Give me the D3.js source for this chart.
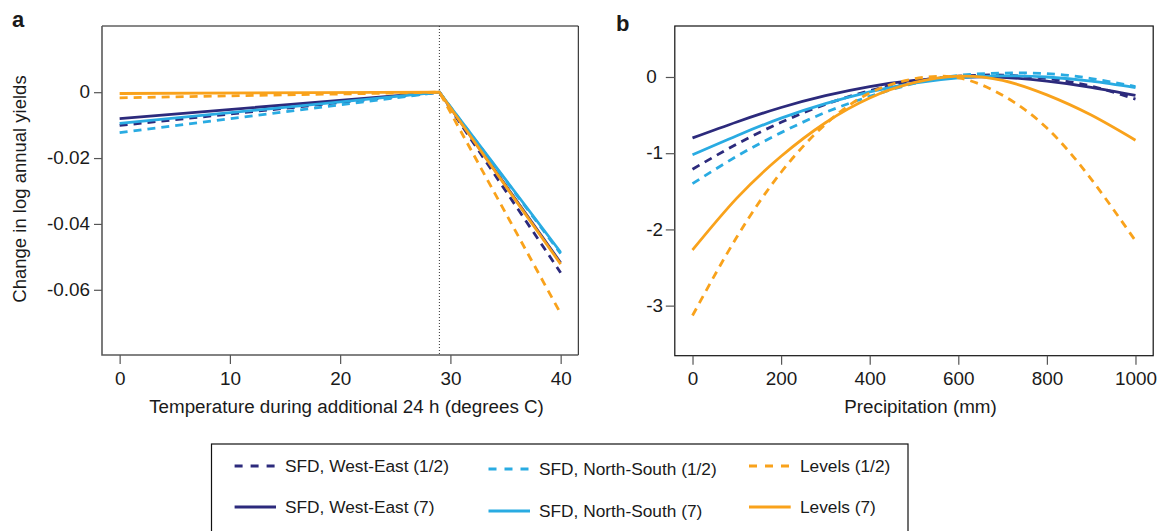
<!DOCTYPE html>
<html><head><meta charset="utf-8">
<script src="https://cdn.jsdelivr.net/npm/d3@7"></script>
<style>
html,body{margin:0;padding:0;background:#fff;}
svg{display:block;font-family:"Liberation Sans",Arial,Helvetica,sans-serif;}
</style></head><body>
<svg id="c" width="1165" height="531"></svg>
<script>
// ---------- DATA ----------
// Panel a: temperature during additional 24 h (degrees C)
const tempX = [0, 29, 40];
const tempWE_half = [-0.0101, 0, -0.0548];
const tempWE_7    = [-0.0080, 0, -0.0518];
const tempNS_half = [-0.0123, 0, -0.0490];
const tempNS_7    = [-0.0095, 0, -0.0486];
const tempLev_half = [-0.0017, 0, -0.0672];
const tempLev_7    = [-0.0004, 0, -0.0522];
const tempThreshold = 29;

// Panel b: precipitation (mm)
const precipX = [0, 100, 200, 300, 400, 500, 600, 700, 800, 900, 1000];
const precipWE_half = [-1.21, -0.88, -0.595, -0.36, -0.18, -0.055, 0.01, 0.025, -0.02, -0.12, -0.29];
const precipWE_7    = [-0.80, -0.59, -0.40, -0.245, -0.125, -0.045, -0.005, -0.005, -0.055, -0.135, -0.24];
const precipNS_half = [-1.40, -1.04, -0.73, -0.465, -0.255, -0.085, 0.02, 0.05, 0.045, -0.02, -0.125];
const precipNS_7    = [-1.02, -0.77, -0.54, -0.35, -0.195, -0.08, -0.01, 0.015, 0.0, -0.055, -0.14];
const precipLev_half = [-3.13, -2.10, -1.25, -0.62, -0.21, -0.025, -0.01, -0.24, -0.67, -1.34, -2.15];
const precipLev_7    = [-2.27, -1.59, -1.04, -0.60, -0.275, -0.075, 0.01, -0.045, -0.235, -0.50, -0.83];

// Ticks and labels
const tempXTicks = [0, 10, 20, 30, 40];
const tempYTicks = [0, -0.02, -0.04, -0.06];
const precipXTicks = [0, 200, 400, 600, 800, 1000];
const precipYTicks = [0, -1, -2, -3];
const seriesLabels = ["SFD, West-East (1/2)", "SFD, West-East (7)", "SFD, North-South (1/2)", "SFD, North-South (7)", "Levels (1/2)", "Levels (7)"];
const panelLabels = ["a", "b"];
const xTitles = ["Temperature during additional 24 h (degrees C)", "Precipitation (mm)"];
const yTitle = "Change in log annual yields";

// ---------- STYLE ----------
const NAVY = "#2c2a7c", LBLUE = "#29abe2", ORANGE = "#f9a21b";
const seriesStyle = [
  {color: NAVY, dashed: true}, {color: NAVY, dashed: false},
  {color: LBLUE, dashed: true}, {color: LBLUE, dashed: false},
  {color: ORANGE, dashed: true}, {color: ORANGE, dashed: false}
];
const tempSeries = [tempWE_half, tempWE_7, tempNS_half, tempNS_7, tempLev_half, tempLev_7];
const precipSeries = [precipWE_half, precipWE_7, precipNS_half, precipNS_7, precipLev_half, precipLev_7];

const svg = d3.select("#c");
const TICKFONT = 17.5, TICKSX = 1.08;

function stretch(sel, sx) {
  sel.each(function() {
    const t = d3.select(this);
    const x = +t.attr("x") || 0, y = +t.attr("y") || 0;
    t.attr("x", 0).attr("y", 0).attr("transform", `translate(${x},${y}) scale(${sx},1)`);
  });
}
const fmt = d => String(d);

// ---------- PANEL A ----------
const A = {l: 102, r: 578.3, t: 26, b: 355};
const xA = d3.scaleLinear().domain([-1.6, 41.6]).range([A.l, A.r]);
const yA = d3.scaleLinear().domain([-0.0798, 0.0201]).range([A.b, A.t]);

const gA = svg.append("g");
gA.append("path").attr("d", `M${A.l},${A.t}H${A.r}V${A.b}`).attr("fill", "none").attr("stroke", "#111").attr("stroke-width", 1);
gA.append("path").attr("d", `M${A.l},${A.t}V${A.b}H${A.r}`).attr("fill", "none").attr("stroke", "#5a5a5a").attr("stroke-width", 1.6);

const axAy = gA.append("g").attr("transform", `translate(${A.l},0)`)
  .call(d3.axisLeft(yA).tickValues(tempYTicks).tickSize(8).tickPadding(4).tickFormat(fmt));
const axAx = gA.append("g").attr("transform", `translate(0,${A.b})`)
  .call(d3.axisBottom(xA).tickValues(tempXTicks).tickSize(9).tickPadding(8.8).tickFormat(fmt));

gA.append("line").attr("x1", xA(tempThreshold)).attr("x2", xA(tempThreshold))
  .attr("y1", A.t).attr("y2", A.b).attr("stroke", "#333").attr("stroke-width", 1).attr("stroke-dasharray", "1,2");

const lineA = d3.line().x((d, i) => xA(tempX[i])).y(d => yA(d));
tempSeries.forEach((s, k) => {
  gA.append("path").datum(s).attr("d", lineA).attr("fill", "none")
    .attr("stroke", seriesStyle[k].color).attr("stroke-width", 2.8)
    .attr("stroke-dasharray", seriesStyle[k].dashed ? "8,6" : null);
});

// ---------- PANEL B ----------
const B = {l: 674.8, r: 1153.2, t: 26, b: 355.7};
const xB = d3.scaleLinear().domain([-40, 1040]).range([B.l, B.r]);
const yB = d3.scaleLinear().domain([-3.657, 0.669]).range([B.b, B.t]);
const gB = svg.append("g");
gB.append("rect").attr("x", B.l).attr("y", B.t).attr("width", B.r - B.l).attr("height", B.b - B.t)
  .attr("fill", "none").attr("stroke", "#111").attr("stroke-width", 1.2);
const axBy = gB.append("g").attr("transform", `translate(${B.l},0)`)
  .call(d3.axisLeft(yB).tickValues(precipYTicks).tickSize(9).tickPadding(4).tickFormat(fmt));
axBy.selectAll("text").attr("text-anchor", "start").attr("x", -28.5);
const axBx = gB.append("g").attr("transform", `translate(0,${B.b})`)
  .call(d3.axisBottom(xB).tickValues(precipXTicks).tickSize(9).tickPadding(8.3).tickFormat(fmt));

const lineB = d3.line().x((d, i) => xB(precipX[i])).y(d => yB(d)).curve(d3.curveNatural);
precipSeries.forEach((s, k) => {
  gB.append("path").datum(s).attr("d", lineB).attr("fill", "none")
    .attr("stroke", seriesStyle[k].color).attr("stroke-width", 2.8)
    .attr("stroke-dasharray", seriesStyle[k].dashed ? "8,6" : null);
});

[axAy, axAx, axBy, axBx].forEach(ax => {
  ax.select(".domain").remove();
  ax.selectAll(".tick line").attr("stroke", "#555").attr("stroke-width", 1.2);
  ax.selectAll("text").attr("font-size", TICKFONT).attr("fill", "#1a1a1a")
    .attr("font-family", '"Liberation Sans",Arial,sans-serif');
  stretch(ax.selectAll("text"), TICKSX);
});

// titles
svg.append("text").attr("x", 346.5).attr("y", 413).attr("text-anchor", "middle")
  .attr("font-size", 18.8).attr("fill", "#1a1a1a").text(xTitles[0]);
svg.append("text").attr("x", 920.5).attr("y", 413).attr("text-anchor", "middle")
  .attr("font-size", 18.8).attr("fill", "#1a1a1a").text(xTitles[1]);
svg.append("text").attr("transform", "translate(26,189) rotate(-90)").attr("text-anchor", "middle")
  .attr("font-size", 18.5).attr("fill", "#1a1a1a").text(yTitle);
svg.append("text").attr("x", 12).attr("y", 27).attr("font-size", 22).attr("font-weight", "bold")
  .attr("fill", "#1a1a1a").text(panelLabels[0]);
svg.append("text").attr("x", 616).attr("y", 31).attr("font-size", 22).attr("font-weight", "bold")
  .attr("fill", "#1a1a1a").text(panelLabels[1]);

// ---------- LEGEND ----------
const lg = svg.append("g");
lg.append("rect").attr("x", 211.5).attr("y", 444).attr("width", 696.5).attr("height", 120)
  .attr("fill", "#fff").attr("stroke", "#111").attr("stroke-width", 1.2);
const legCols = [{x1: 234.6, x2: 276, tx: 285, y: [466, 507]},
                 {x1: 488.5, x2: 530, tx: 539, y: [469, 511]},
                 {x1: 749, x2: 790.7, tx: 800, y: [466, 507]}];
seriesLabels.forEach((lab, k) => {
  const c = legCols[Math.floor(k / 2)], row = k % 2, y = c.y[row];
  lg.append("line").attr("x1", c.x1).attr("x2", c.x2).attr("y1", y).attr("y2", y)
    .attr("stroke", seriesStyle[k].color).attr("stroke-width", 2.8)
    .attr("stroke-dasharray", seriesStyle[k].dashed ? "8,8" : null);
  lg.append("text").attr("x", c.tx).attr("y", y).attr("dy", "0.35em")
    .attr("font-size", 17.3).attr("fill", "#1a1a1a").text(lab);
});
</script>
</body></html>
